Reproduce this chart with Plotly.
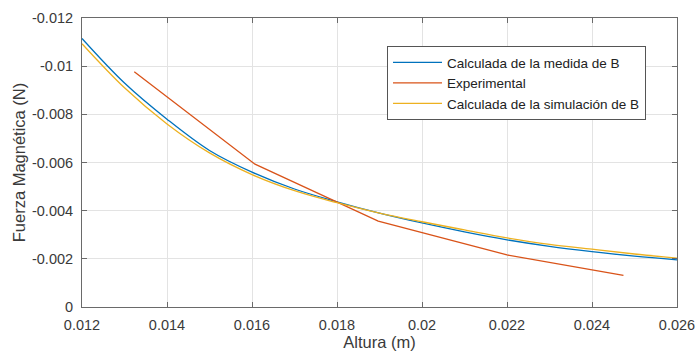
import plotly.graph_objects as go

# ---- data ----
altura_calc = [0.012, 0.013, 0.014, 0.015, 0.016, 0.017, 0.018, 0.019,
               0.020, 0.021, 0.022, 0.023, 0.024, 0.025, 0.026]
fuerza_medida = [-0.01115, -0.0093, -0.0078, -0.0065, -0.0056, -0.0049, -0.00437,
                 -0.0039, -0.00349, -0.00312, -0.00279, -0.00252, -0.0023,
                 -0.00211, -0.00196]
fuerza_simulacion = [-0.01093, -0.0091, -0.0076, -0.0064, -0.0055, -0.00483, -0.00433,
                     -0.0039, -0.00354, -0.0032, -0.00287, -0.0026, -0.0024,
                     -0.0022, -0.00203]
altura_exp = [0.01323, 0.01607, 0.01897, 0.02200, 0.02474]
fuerza_exp = [-0.00977, -0.00593, -0.00357, -0.00216, -0.00131]

x_ticks = [0.012, 0.014, 0.016, 0.018, 0.020, 0.022, 0.024, 0.026]
x_ticktext = ["0.012", "0.014", "0.016", "0.018", "0.02", "0.022", "0.024", "0.026"]
y_ticks = [0, -0.002, -0.004, -0.006, -0.008, -0.010, -0.012]
y_ticktext = ["0", "-0.002", "-0.004", "-0.006", "-0.008", "-0.01", "-0.012"]

names = ["Calculada de la medida de B", "Experimental", "Calculada de la simulación de B"]
colors = ["#0072BD", "#D95319", "#EDB120"]

FONT = "Liberation Sans, Arial, Helvetica, sans-serif"
TXT = "#3a3a3a"
AX = "#6a6a6a"

fig = go.Figure()
fig.add_trace(go.Scatter(x=altura_calc, y=fuerza_medida, mode="lines", name=names[0],
                         line=dict(color=colors[0], width=1.3, shape="spline")))
fig.add_trace(go.Scatter(x=altura_exp, y=fuerza_exp, mode="lines", name=names[1],
                         line=dict(color=colors[1], width=1.3)))
fig.add_trace(go.Scatter(x=altura_calc, y=fuerza_simulacion, mode="lines", name=names[2],
                         line=dict(color=colors[2], width=1.3, shape="spline")))

axis_common = dict(
    showline=True, linecolor=AX, linewidth=1, mirror="allticks",
    ticks="inside", ticklen=5, tickcolor=AX, tickwidth=1,
    showgrid=True, gridcolor="#e3e3e3", gridwidth=1, zeroline=False,
    tickfont=dict(family=FONT, size=14.5, color=TXT),
    automargin=False,
)

fig.update_xaxes(range=[0.012, 0.026], tickvals=x_ticks, ticktext=x_ticktext,
                 ticklabelstandoff=5,
                 title=dict(text="Altura (m)", font=dict(family=FONT, size=16.5, color=TXT),
                            standoff=3),
                 **axis_common)
fig.update_yaxes(range=[0, -0.012], tickvals=y_ticks, ticktext=y_ticktext,
                 ticklabelstandoff=5,
                 title=dict(text="Fuerza Magnética (N)", font=dict(family=FONT, size=16.5, color=TXT),
                            standoff=2),
                 **axis_common)

fig.update_layout(
    width=699, height=356,
    margin=dict(l=82, r=22, t=18, b=49),
    paper_bgcolor="white", plot_bgcolor="white",
    font=dict(family=FONT, color=TXT),
    legend=dict(x=0.5126, y=0.903, xanchor="left", yanchor="top",
                bgcolor="white", bordercolor="#555555", borderwidth=1,
                font=dict(family=FONT, size=13.5, color="#222222"),
                tracegroupgap=0, itemwidth=49),
    showlegend=True,
)

fig.write_html("out.html")
